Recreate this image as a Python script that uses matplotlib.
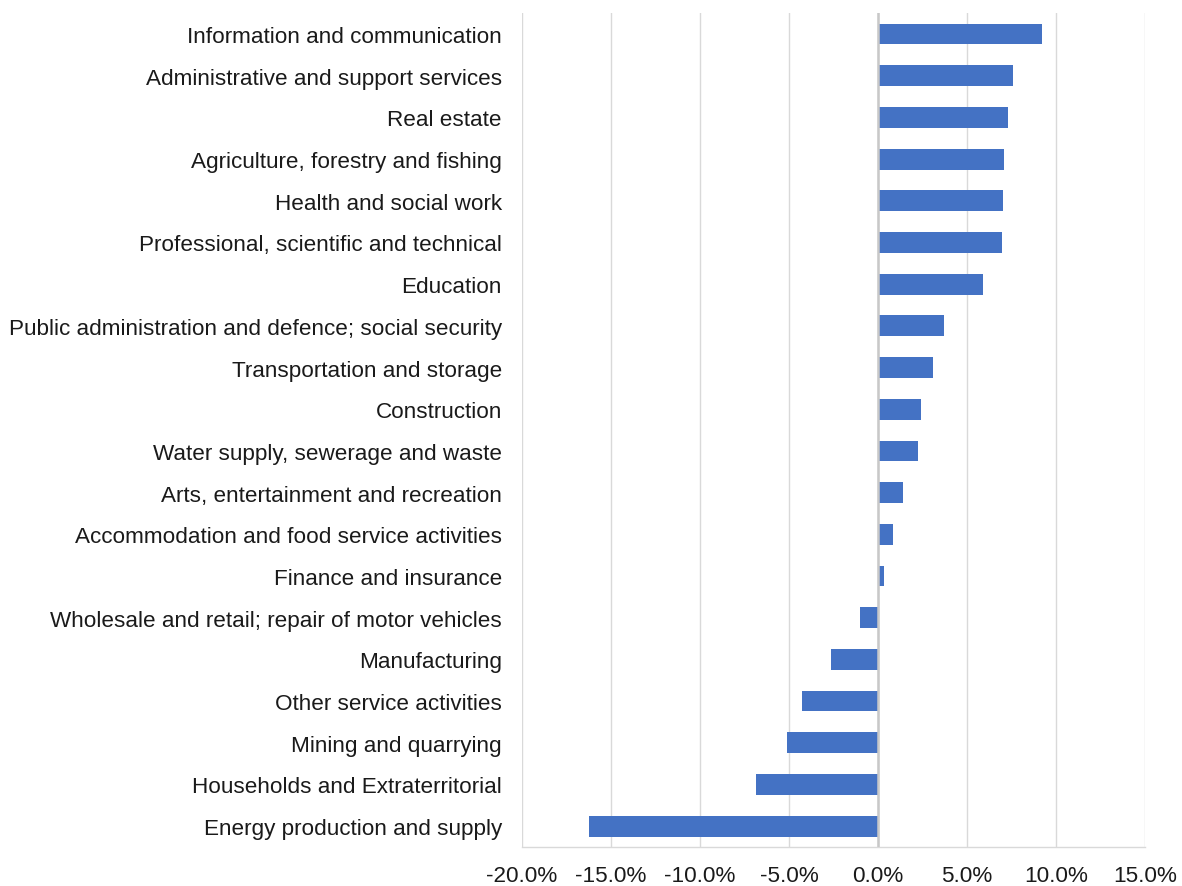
import matplotlib.pyplot as plt
from matplotlib.ticker import FuncFormatter

# Sectores (de arriba hacia abajo) y variación en %
sectores = [
    "Information and communication",
    "Administrative and support services",
    "Real estate",
    "Agriculture, forestry and fishing",
    "Health and social work",
    "Professional, scientific and technical",
    "Education",
    "Public administration and defence; social security",
    "Transportation and storage",
    "Construction",
    "Water supply, sewerage and waste",
    "Arts, entertainment and recreation",
    "Accommodation and food service activities",
    "Finance and insurance",
    "Wholesale and retail; repair of motor vehicles",
    "Manufacturing",
    "Other service activities",
    "Mining and quarrying",
    "Households and Extraterritorial",
    "Energy production and supply",
]
valores = [9.2, 7.6, 7.3, 7.1, 7.0, 6.95, 5.9, 3.7, 3.1, 2.4, 2.25, 1.4, 0.85, 0.35,
           -1.0, -2.65, -4.25, -5.1, -6.85, -16.25]

plt.rcParams['font.family'] = ['Liberation Sans', 'DejaVu Sans']

fig = plt.figure(figsize=(11.82, 8.87), dpi=100)
ax = fig.add_axes([0.4416, 0.044, 0.527, 0.940])

posiciones = list(range(len(sectores)))
ax.barh(posiciones, valores, height=0.5, color='#4472C4', zorder=3)

ax.set_ylim(len(sectores) - 0.5, -0.5)
ax.set_xlim(-20, 15)
ax.set_xticks([-20, -15, -10, -5, 0, 5, 10, 15])
ax.xaxis.set_major_formatter(FuncFormatter(lambda v, p: f"{v:.1f}%"))
ax.set_yticks(posiciones)
ax.set_yticklabels(sectores)

ax.grid(axis='x', color='#d9d9d9', linewidth=1.0, zorder=0)
ax.axvline(0, color='#c8c8c8', linewidth=1.8, zorder=4)

for lado in ['top', 'right', 'left']:
    ax.spines[lado].set_visible(False)
ax.spines['bottom'].set_color('#d9d9d9')
ax.spines['bottom'].set_linewidth(1.0)

ax.tick_params(axis='y', length=0, pad=14.5, labelsize=16.2, labelcolor='#1a1a1a')
ax.tick_params(axis='x', length=0, pad=13, labelsize=16.2, labelcolor='#1a1a1a')

fig.savefig('out.png', dpi=100)
